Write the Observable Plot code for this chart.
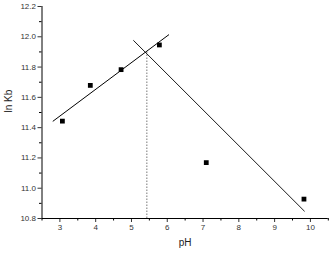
<!DOCTYPE html>
<html><head><meta charset="utf-8">
<script src="https://cdn.jsdelivr.net/npm/d3@7"></script>
<script src="https://cdn.jsdelivr.net/npm/@observablehq/plot@0.6"></script>
<style>body{margin:0;background:#fff}svg{display:block}</style>
</head><body><div id="chart"></div>
<script>
const pH = [3.07, 3.85, 4.71, 5.78, 7.09, 9.82];
const lnKb = [11.443, 11.679, 11.783, 11.946, 11.169, 10.928];
const fit1X = [2.81, 6.04];
const fit1Y = [11.443, 12.013];
const fit2X = [5.06, 9.83];
const fit2Y = [11.975, 10.849];
const crossPH = 5.43;
const crossLnKb = 11.90;
const xTicks = [3, 4, 5, 6, 7, 8, 9, 10];
const xMinor = [2.5, 3.5, 4.5, 5.5, 6.5, 7.5, 8.5, 9.5, 10.5];
const yTicks = [10.8, 11.0, 11.2, 11.4, 11.6, 11.8, 12.0, 12.2];
const yMinor = [10.9, 11.1, 11.3, 11.5, 11.7, 11.9, 12.1];

const pts = pH.map((x, i) => ({x, y: lnKb[i]}));
const f1 = fit1X.map((x, i) => ({x, y: fit1Y[i]}));
const f2 = fit2X.map((x, i) => ({x, y: fit2Y[i]}));

const chart = Plot.plot({
  width: 332, height: 254,
  marginLeft: 41.5, marginRight: 4.2, marginTop: 6, marginBottom: 36,
  style: {fontFamily: "'Liberation Sans', Arial, sans-serif", background: "#fff"},
  x: {domain: [2.5, 10.5]},
  y: {domain: [10.8, 12.2]},
  marks: [
    Plot.axisX({ticks: xTicks, tickSize: 4, tickPadding: 2, fontSize: 8, color: "#333", label: null, tickFormat: d => d}),
    Plot.axisX({ticks: xMinor, tickSize: 2.5, text: null, label: null}),
    Plot.axisY({ticks: yTicks, tickSize: 4, tickPadding: 2, fontSize: 8, color: "#333", label: null, tickFormat: d3.format(".1f")}),
    Plot.axisY({ticks: yMinor, tickSize: 2.5, text: null, label: null}),
    Plot.ruleY([10.8], {stroke: "#000"}),
    Plot.ruleX([2.5], {stroke: "#000"}),
    Plot.ruleX([crossPH], {y1: 10.8, y2: crossLnKb, stroke: "#777", strokeDasharray: "1.5,1.5"}),
    Plot.line(f1, {x: "x", y: "y", stroke: "#000", strokeWidth: 1}),
    Plot.line(f2, {x: "x", y: "y", stroke: "#000", strokeWidth: 0.9}),
    Plot.dot(pts, {x: "x", y: "y", symbol: "square", r: 2.7, fill: "#000", stroke: "none"}),
    Plot.text(["pH"], {frameAnchor: "bottom", dy: 27, fontSize: 10, fill: "#222"}),
    Plot.text(["ln Kb"], {frameAnchor: "left", dx: -33, rotate: -90, fontSize: 10, fill: "#222"})
  ]
});
document.getElementById("chart").append(chart);
</script>
</body></html>
